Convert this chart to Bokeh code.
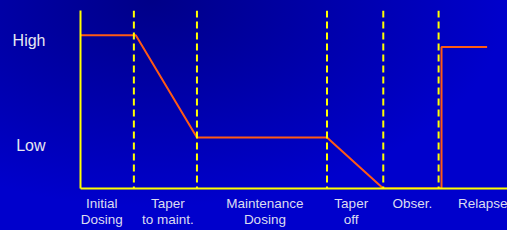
from bokeh.plotting import figure
from bokeh.models import FixedTicker, Range1d, Span
from bokeh.embed import file_html
from bokeh.resources import INLINE

# Phase boundaries (arbitrary time units) and labels
phase_bounds = [5.5, 12.0, 25.4, 31.2, 36.9]
phase_label_pos = [2.2, 9.0, 19.0, 27.9, 34.2, 41.6]
phase_labels = ["Initial\nDosing", "Taper\nto maint.", "Maintenance\nDosing",
                "Taper\noff", "Obser.", "Relapse"]

# Dose course (relative dose level)
dose_x = [0.0, 5.7, 12.0, 25.4, 31.2, 37.2, 37.2, 41.9]
dose_y = [1.0, 1.0, 0.333, 0.333, 0.0, 0.0, 0.923, 0.923]

# Y axis level labels
level_pos = [0.279, 0.964]
level_labels = ["Low", "High"]

W, H = 507, 230
p = figure(width=W, height=H, output_backend="svg", toolbar_location=None,
           x_range=Range1d(0, 44), y_range=Range1d(0, 1.161),
           min_border_left=80, min_border_right=0, min_border_top=10,
           min_border_bottom=37)
p.styles = {"background": "radial-gradient(ellipse 70% 90% at 30% 0%, #000088 0%, #0000cc 100%)"}
p.background_fill_alpha = 0
p.border_fill_alpha = 0
p.outline_line_color = None
p.grid.visible = False

for xb in phase_bounds:
    p.add_layout(Span(location=xb, dimension="height", line_color="#ffff00",
                      line_width=2, line_dash="7 4"))

p.line(dose_x, dose_y, line_color="#ff5a14", line_width=2)

# X axis
xa = p.xaxis[0]
xa.ticker = FixedTicker(ticks=phase_label_pos)
xa.major_label_overrides = {t: l for t, l in zip(phase_label_pos, phase_labels)}
xa.axis_line_color = "#ffff00"
xa.axis_line_width = 2
xa.major_tick_line_color = None
xa.minor_tick_line_color = None
xa.major_tick_out = 0
xa.major_label_standoff = 7
xa.major_label_text_font = "Liberation Sans"
xa.major_label_text_font_size = "13.5px"
xa.major_label_text_color = "#dcdcf0"
xa.major_label_text_line_height = 1.1

# Y axis
ya = p.yaxis[0]
ya.ticker = FixedTicker(ticks=level_pos)
ya.major_label_overrides = {t: l for t, l in zip(level_pos, level_labels)}
ya.axis_line_color = "#ffff00"
ya.axis_line_width = 2
ya.major_tick_line_color = None
ya.minor_tick_line_color = None
ya.major_tick_out = 0
ya.major_label_orientation = "horizontal"
ya.major_label_text_align = "left"
ya.major_label_standoff = 35
ya.major_label_text_font = "Liberation Sans"
ya.major_label_text_font_size = "16px"
ya.major_label_text_color = "#e8e8f0"

open("out.html", "w").write(file_html(p, INLINE))
